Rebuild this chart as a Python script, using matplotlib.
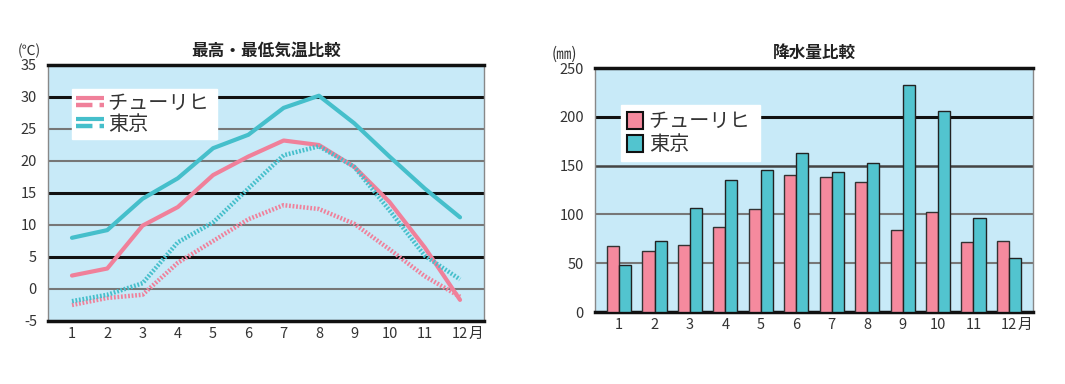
import matplotlib
matplotlib.use("Agg")
import matplotlib.pyplot as plt
from matplotlib.lines import Line2D
from matplotlib.patches import Patch
from matplotlib.legend_handler import HandlerBase
import numpy as np

plt.rcParams['font.family'] = ['Noto Sans CJK JP', 'DejaVu Sans']

months = ['1', '2', '3', '4', '5', '6', '7', '8', '9', '10', '11', '12']
month_suffix = '月'
cities = ['チューリヒ ', '東京']

zurich_max = [2.1, 3.2, 9.9, 12.8, 17.8, 20.7, 23.2, 22.5, 19.1, 13.6, 6.5, -1.7]
zurich_min = [-2.5, -1.4, -0.9, 4.1, 7.5, 10.9, 13.1, 12.5, 10.2, 6.2, 2.0, -1.2]
tokyo_max = [8.0, 9.2, 14.1, 17.3, 22.0, 24.1, 28.3, 30.2, 25.9, 20.7, 15.7, 11.2]
tokyo_min = [-1.9, -0.9, 0.9, 7.3, 10.4, 15.7, 20.9, 22.3, 19.1, 12.3, 5.2, 1.5]

zurich_rain = [68, 62, 69, 87, 106, 140, 138, 133, 84, 102, 72, 73]
tokyo_rain = [48, 73, 107, 135, 146, 163, 143, 153, 233, 206, 96, 55]

temp_ticks = [-5, 0, 5, 10, 15, 20, 25, 30, 35]
rain_ticks = [0, 50, 100, 150, 200, 250]

BG = '#c8eaf8'
PINK = '#f0809a'
CYAN = '#45bfcb'
PINK_BAR = '#f58a9e'
CYAN_BAR = '#52c4cf'
TXT = '#333333'

fig = plt.figure(figsize=(10.65, 3.84), dpi=100)
fig.patch.set_facecolor('white')

ax1 = fig.add_axes([48/1065, 63/384, 436/1065, 256/384])
ax2 = fig.add_axes([595/1065, 72/384, 438/1065, 244/384])

x = np.arange(1, 13)


class StackedLines(HandlerBase):
    def create_artists(self, legend, orig_handle, xdescent, ydescent,
                       width, height, fontsize, trans):
        arts = []
        for i, h in enumerate(orig_handle):
            y = height * (0.8 - 0.5 * i) - ydescent
            ln = Line2D([-xdescent, -xdescent + width], [y, y],
                        color=h.get_color(), lw=h.get_linewidth(),
                        linestyle=h.get_linestyle(), transform=trans,
                        solid_capstyle='butt', dash_capstyle='butt')
            arts.append(ln)
        return arts


def style_axes(ax, ticks, black_vals, dark_vals):
    ax.set_facecolor(BG)
    ax.set_xlim(0.32, 12.68)
    ax.set_ylim(ticks[0], ticks[-1])
    ax.set_yticks(ticks)
    ax.set_yticklabels([str(t) for t in ticks])
    ax.set_xticks(x)
    ax.set_xticklabels(months)
    ax.tick_params(length=0, labelsize=10.5, labelcolor=TXT)
    ax.tick_params(axis='y', pad=8)
    ax.tick_params(axis='x', pad=4)
    for t in ticks[1:-1]:
        if t in black_vals:
            ax.axhline(t, color='#111111', lw=2.2, zorder=1)
        elif t in dark_vals:
            ax.axhline(t, color='#444444', lw=1.8, zorder=1)
        else:
            ax.axhline(t, color='#777777', lw=1.5, zorder=1)
    for s in ['top', 'bottom']:
        ax.spines[s].set_color('#111111')
        ax.spines[s].set_linewidth(2.5)
    for s in ['left', 'right']:
        ax.spines[s].set_color('#888888')
        ax.spines[s].set_linewidth(1.0)
    ax.annotate(month_suffix, xy=(12, 0), xycoords=('data', 'axes fraction'),
                xytext=(6, -4), textcoords='offset points', ha='left', va='top',
                fontsize=10.5, color=TXT)


# ---------- Left: temperature ----------
style_axes(ax1, temp_ticks, black_vals=[30, 15, 5], dark_vals=[])
dot = (0, (0.4, 0.4))
l_zmax, = ax1.plot(x, zurich_max, color=PINK, lw=3, zorder=3, solid_capstyle='round')
l_zmin, = ax1.plot(x, zurich_min, color=PINK, lw=3.2, linestyle=dot, zorder=3)
l_tmax, = ax1.plot(x, tokyo_max, color=CYAN, lw=3, zorder=3, solid_capstyle='round')
l_tmin, = ax1.plot(x, tokyo_min, color=CYAN, lw=3.2, linestyle=dot, zorder=3)

leg1 = ax1.legend([(l_zmax, l_zmin), (l_tmax, l_tmin)], cities,
                  handler_map={tuple: StackedLines()},
                  loc='upper left', bbox_to_anchor=(0.055, 0.906),
                  borderaxespad=0, frameon=True, fancybox=False,
                  framealpha=1, edgecolor='white', facecolor='white',
                  fontsize=14.5, handlelength=1.4, handletextpad=0.2,
                  labelspacing=0.0, borderpad=0.2)
for t in leg1.get_texts():
    t.set_color(TXT)
leg1.set_zorder(5)

ax1.set_title('最高・最低気温比較', fontsize=12, fontweight='bold', color='#222222', pad=7)
ax1.text(-0.07, 1.025, '(℃)', transform=ax1.transAxes, fontsize=10, color=TXT,
         ha='left', va='bottom')

# ---------- Right: precipitation ----------
style_axes(ax2, rain_ticks, black_vals=[200], dark_vals=[150])
w = 0.34
ax2.bar(x - w/2, zurich_rain, width=w, color=PINK_BAR, edgecolor='#333333', lw=1.0, zorder=3)
ax2.bar(x + w/2, tokyo_rain, width=w, color=CYAN_BAR, edgecolor='#222222', lw=1.0, zorder=3)

handles2 = [Patch(facecolor=PINK_BAR, edgecolor='#111111', lw=1.5),
            Patch(facecolor=CYAN_BAR, edgecolor='#111111', lw=1.5)]
leg2 = ax2.legend(handles2, cities, loc='upper left', bbox_to_anchor=(0.059, 0.848),
                  borderaxespad=0, frameon=True, fancybox=False, framealpha=1,
                  edgecolor='white', facecolor='white', fontsize=14.5,
                  handlelength=0.8, handleheight=0.9, handletextpad=0.3,
                  labelspacing=0.1, borderpad=0.3)
for t in leg2.get_texts():
    t.set_color(TXT)
leg2.set_zorder(5)

ax2.set_title('降水量比較', fontsize=12, fontweight='bold', color='#222222', pad=7)
ax2.text(-0.1, 1.02, '(㎜)', transform=ax2.transAxes, fontsize=11, color=TXT,
         ha='left', va='bottom')

fig.savefig('out.png', dpi=100, facecolor='white')
